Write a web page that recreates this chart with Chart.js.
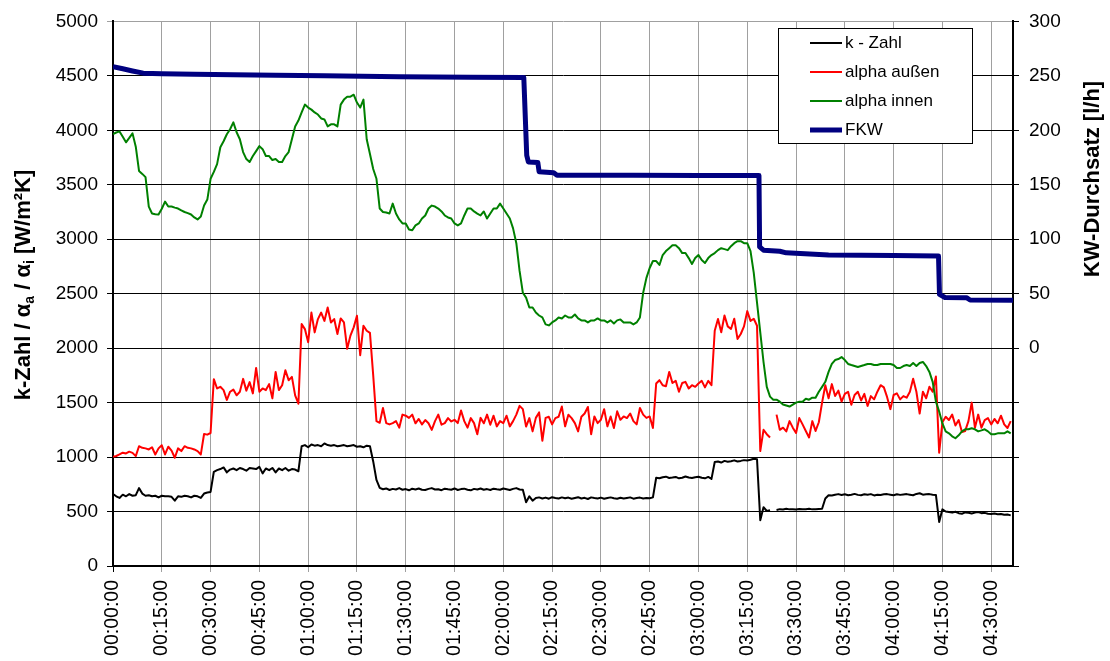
<!DOCTYPE html>
<html><head><meta charset="utf-8">
<script src="https://cdn.jsdelivr.net/npm/chart.js@4/dist/chart.umd.min.js"></script>
<style>html,body{margin:0;padding:0;background:#fff;}#wrap{width:1110px;height:661px;}</style>
</head><body><div id="wrap"><canvas id="c" width="1110" height="661"></canvas></div>
<script>
// sampling interval of the three measured series (minutes)
const SAMPLE_STEP_MIN = 1;
const X_MAX_MIN = 276.7;
const xTickMinutes = [0,15,30,45,60,75,90,105,120,135,150,165,180,195,210,225,240,255,270];
const xTickLabels = ['00:00:00','00:15:00','00:30:00','00:45:00','01:00:00','01:15:00','01:30:00','01:45:00','02:00:00','02:15:00','02:30:00','02:45:00','03:00:00','03:15:00','03:30:00','03:45:00','04:00:00','04:15:00','04:30:00'];

const kZahl = [
661,640,625,655,640,660,645,650,715,665,
645,650,640,645,630,645,640,640,635,600,
640,635,645,640,630,645,640,625,665,675,
680,865,880,890,905,860,885,895,880,900,
890,875,900,895,890,910,850,895,880,900,
860,895,880,900,875,890,885,870,1100,1110,
1090,1115,1105,1110,1100,1125,1110,1105,1110,1100,
1105,1110,1100,1105,1110,1095,1100,1090,1105,1100,
960,790,718,705,712,698,708,702,715,700,
706,695,710,703,712,700,698,708,715,702,
705,696,710,704,700,712,698,706,710,700,
695,708,703,712,700,706,698,710,704,700,
712,705,698,708,715,702,700,585,640,600,
625,630,620,628,618,632,625,620,630,622,
628,618,625,632,620,626,615,630,624,620,
628,618,625,630,622,618,627,620,625,630,
618,624,628,620,625,622,630,810,805,815,
820,808,812,818,805,810,822,812,808,815,
820,810,805,818,800,955,960,950,965,958,
962,970,960,965,972,968,975,985,980,420,
540,505,512,null,515,522,518,525,520,522,
518,524,520,522,525,520,522,524,526,620,
650,648,655,660,652,658,650,655,662,653,
650,658,655,660,648,655,652,658,660,655,
650,658,653,657,660,655,650,662,668,655,
658,660,655,652,405,520,500,495,490,498,
485,480,492,488,482,490,495,485,488,480,
478,482,475,478,470,472,465];

const alphaAussen = [
1003,1010,1024,1040,1033,1050,1039,1009,1100,1085,
1080,1070,1090,1024,1080,1109,1024,1095,1060,994,
1080,1055,1100,1085,1080,1070,1055,1024,1212,1206,
1221,1715,1630,1645,1615,1524,1600,1620,1567,1600,
1718,1610,1688,1585,1818,1600,1630,1615,1670,1539,
1782,1615,1660,1797,1706,1736,1567,1490,2221,2175,
2055,2327,2145,2267,2327,2250,2373,2236,2267,2130,
2273,2236,1994,2115,2191,2297,1936,2206,2160,2140,
1750,1330,1315,1450,1312,1300,1312,1330,1270,1390,
1380,1360,1390,1310,1350,1300,1340,1310,1250,1330,
1390,1297,1312,1358,1327,1342,1312,1427,1330,1270,
1358,1312,1210,1360,1310,1390,1297,1380,1282,1330,
1312,1380,1282,1330,1390,1470,1440,1280,1358,1236,
1360,1410,1150,1360,1370,1300,1358,1370,1464,1282,
1388,1358,1312,1236,1370,1400,1460,1210,1373,1312,
1342,1440,1282,1373,1267,1420,1342,1373,1358,1400,
1330,1300,1450,1390,1360,1373,1267,1676,1706,1660,
1650,1782,1680,1700,1600,1680,1691,1630,1660,1645,
1676,1700,1640,1700,1660,2160,2267,2146,2300,2200,
2176,2270,2085,2130,2200,2340,2250,2270,2206,1055,
1250,1210,1180,null,1390,1250,1270,1236,1330,1270,
1221,1358,1300,1240,1180,1330,1240,1320,1500,1660,
1540,1670,1560,1610,1510,1580,1600,1480,1570,1600,
1520,1580,1470,1560,1530,1600,1660,1640,1550,1440,
1570,1585,1530,1560,1545,1600,1720,1600,1400,1600,
1540,1646,1600,1740,1040,1320,1370,1340,1390,1290,
1340,1230,1240,1330,1500,1270,1390,1270,1340,1358,
1300,1350,1310,1380,1300,1267,1330];

const alphaInnen = [
3964,3980,3990,3940,3890,3930,3972,3850,3627,3600,
3570,3300,3236,3230,3227,3280,3345,3300,3300,3290,
3282,3265,3250,3240,3227,3200,3182,3209,3309,3364,
3555,3618,3690,3845,3900,3964,4010,4073,3982,3918,
3800,3736,3709,3764,3809,3855,3827,3764,3764,3727,
3736,3709,3709,3764,3800,3918,4036,4090,4164,4236,
4209,4190,4164,4145,4109,4100,4036,4055,4055,4036,
4236,4282,4309,4309,4327,4255,4209,4282,3918,3782,
3645,3555,3282,3250,3245,3236,3327,3236,3182,3145,
3145,3090,3082,3127,3145,3190,3218,3282,3309,3300,
3282,3255,3218,3200,3190,3145,3127,3145,3218,3282,
3282,3255,3236,3218,3255,3190,3236,3282,3282,3327,
3282,3236,3190,3100,2964,2709,2509,2464,2373,2373,
2327,2300,2282,2218,2209,2236,2255,2282,2273,2300,
2282,2282,2309,2273,2255,2255,2236,2255,2255,2273,
2255,2255,2236,2255,2227,2255,2264,2236,2236,2236,
2218,2236,2282,2509,2645,2736,2800,2800,2764,2855,
2891,2918,2945,2945,2918,2873,2873,2827,2773,2827,
2855,2809,2782,2827,2855,2873,2900,2918,2909,2900,
2936,2964,2982,2982,2964,2964,2891,2691,2418,2145,
1873,1645,1555,1527,1527,1509,1482,1473,1464,1482,
1500,1509,1509,1536,1527,1545,1545,1600,1645,1691,
1782,1855,1891,1900,1918,1891,1855,1845,1836,1827,
1836,1845,1855,1855,1845,1845,1855,1855,1855,1855,
1845,1818,1818,1836,1845,1836,1864,1836,1864,1873,
1836,1782,1691,1509,1418,1309,1236,1218,1191,1173,
1200,1236,1255,1255,1264,1255,1236,1245,1255,1236,
1209,1209,1218,1218,1218,1236,1218];

// FKW throughput [l/h], right axis (minutes / value)
const fkwTime  = [0,3,6,9.3,15,25,37,50,65,88,110,126.3,127.2,127.7,130.6,131,135.5,136.5,160,180,198.6,198.8,200,205,207,220,240,253.8,254.1,255.8,262.4,263.5,276.7];
const fkwValue = [258.5,256.5,254.5,252.5,252,251.5,251,250.5,250,249.2,248.8,248.5,177,171,170.5,162,161,158.8,158.7,158.6,158.5,93,90,89,87.5,85.5,85,84.6,49.4,46.5,46.3,44.2,44];

const seriesLabels = ['k - Zahl', 'alpha außen', 'alpha innen', 'FKW'];
const seriesColors = ['#000000', '#ff0000', '#008000', '#000080'];
const leftTitleParts = [['k-Zahl / α', false], ['a', true], [' / α', false], ['i', true], [' [W/m²K]', false]];
const rightTitle = 'KW-Durchsatz [l/h]';

const FONT = "'Liberation Sans', Arial, sans-serif";

function toPoints(arr) { return arr.map((v, i) => ({ x: i * SAMPLE_STEP_MIN, y: v })); }

const titlesPlugin = {
  id: 'titles',
  afterDraw(chart) {
    const ctx = chart.ctx;
    // left title with subscripts
    ctx.save();
    ctx.translate(22, 285);
    ctx.rotate(-Math.PI / 2);
    ctx.fillStyle = '#000';
    ctx.textAlign = 'left';
    ctx.textBaseline = 'alphabetic';
    let total = 0;
    const w = leftTitleParts.map(([t, sub]) => {
      ctx.font = 'bold ' + (sub ? 14 : 22) + 'px ' + FONT;
      const m = ctx.measureText(t).width; total += m; return m;
    });
    let x = -total / 2;
    leftTitleParts.forEach(([t, sub], i) => {
      ctx.font = 'bold ' + (sub ? 14 : 22) + 'px ' + FONT;
      ctx.fillText(t, x, sub ? 12 : 8);
      x += w[i];
    });
    ctx.restore();
    // right title
    ctx.save();
    ctx.translate(1093, 179);
    ctx.rotate(-Math.PI / 2);
    ctx.fillStyle = '#000';
    ctx.font = 'bold 22px ' + FONT;
    ctx.textAlign = 'center';
    ctx.textBaseline = 'middle';
    ctx.fillText(rightTitle, 0, 0);
    ctx.restore();
    // legend box
    const bx = 778.5, by = 28.5, bw = 194, bh = 115;
    ctx.save();
    ctx.fillStyle = '#fff';
    ctx.fillRect(bx, by, bw, bh);
    ctx.strokeStyle = '#000';
    ctx.lineWidth = 1;
    ctx.strokeRect(bx, by, bw, bh);
    ctx.font = '17px ' + FONT;
    ctx.textAlign = 'left';
    ctx.textBaseline = 'middle';
    chart.data.datasets.forEach((ds, i) => {
      const y = 43 + i * 29;
      ctx.strokeStyle = ds.borderColor;
      ctx.lineWidth = ds.borderWidth;
      ctx.beginPath(); ctx.moveTo(810, y); ctx.lineTo(842, y); ctx.stroke();
      ctx.fillStyle = '#000';
      ctx.fillText(ds.label, 845, y);
    });
    ctx.restore();
  }
};

new Chart(document.getElementById('c'), {
  type: 'line',
  data: {
    datasets: [
      { label: seriesLabels[0], data: toPoints(kZahl), borderColor: seriesColors[0], borderWidth: 2, yAxisID: 'y', order: 4 },
      { label: seriesLabels[1], data: toPoints(alphaAussen), borderColor: seriesColors[1], borderWidth: 2, yAxisID: 'y', order: 3 },
      { label: seriesLabels[2], data: toPoints(alphaInnen), borderColor: seriesColors[2], borderWidth: 2, yAxisID: 'y', order: 2 },
      { label: seriesLabels[3], data: fkwTime.map((t, i) => ({ x: t, y: fkwValue[i] })), borderColor: seriesColors[3], borderWidth: 5, yAxisID: 'y1', order: 1 }
    ]
  },
  options: {
    responsive: false,
    animation: false,
    devicePixelRatio: 1,
    spanGaps: false,
    layout: { padding: { top: 16, left: 0, right: 0, bottom: 0 } },
    elements: { point: { radius: 0 }, line: { tension: 0, borderJoinStyle: 'round', fill: false } },
    plugins: { legend: { display: false }, tooltip: { enabled: false } },
    scales: {
      x: {
        type: 'linear', position: 'bottom', min: 0, max: X_MAX_MIN,
        afterBuildTicks(ax) { ax.ticks = xTickMinutes.map(v => ({ value: v })); },
        afterFit(ax) { ax.height = 95; },
        ticks: { autoSkip: false, maxRotation: 90, minRotation: 90, padding: 8, color: '#000',
          font: { family: FONT, size: 19.5 },
          callback: v => { const i = xTickMinutes.indexOf(v); return i >= 0 ? xTickLabels[i] : ''; } },
        grid: { color: c => (c.tick && c.tick.value === 0) ? '#000' : '#a0a0a0', lineWidth: 1, tickLength: 6 },
        border: { color: '#000', width: 2 }
      },
      y: {
        type: 'linear', position: 'left', min: 0, max: 5000,
        afterFit(ax) { ax.width = 113; },
        ticks: { stepSize: 500, padding: 9, color: '#000', font: { family: FONT, size: 19 }, callback: v => String(v) },
        grid: { color: c => (c.tick && c.tick.value === 5000) ? '#a0a0a0' : '#000', lineWidth: 1, tickLength: 6 },
        border: { color: '#000', width: 2 }
      },
      y1: {
        type: 'linear', position: 'right', min: -200, max: 300,
        afterFit(ax) { ax.width = 97; },
        ticks: { stepSize: 50, padding: 10, color: '#000', font: { family: FONT, size: 19 },
          callback: v => (v >= 0 ? String(v) : '') },
        grid: { drawOnChartArea: false, color: '#000', tickLength: 6 },
        border: { color: '#000', width: 2 }
      }
    }
  },
  plugins: [titlesPlugin]
});
</script>
</body></html>
